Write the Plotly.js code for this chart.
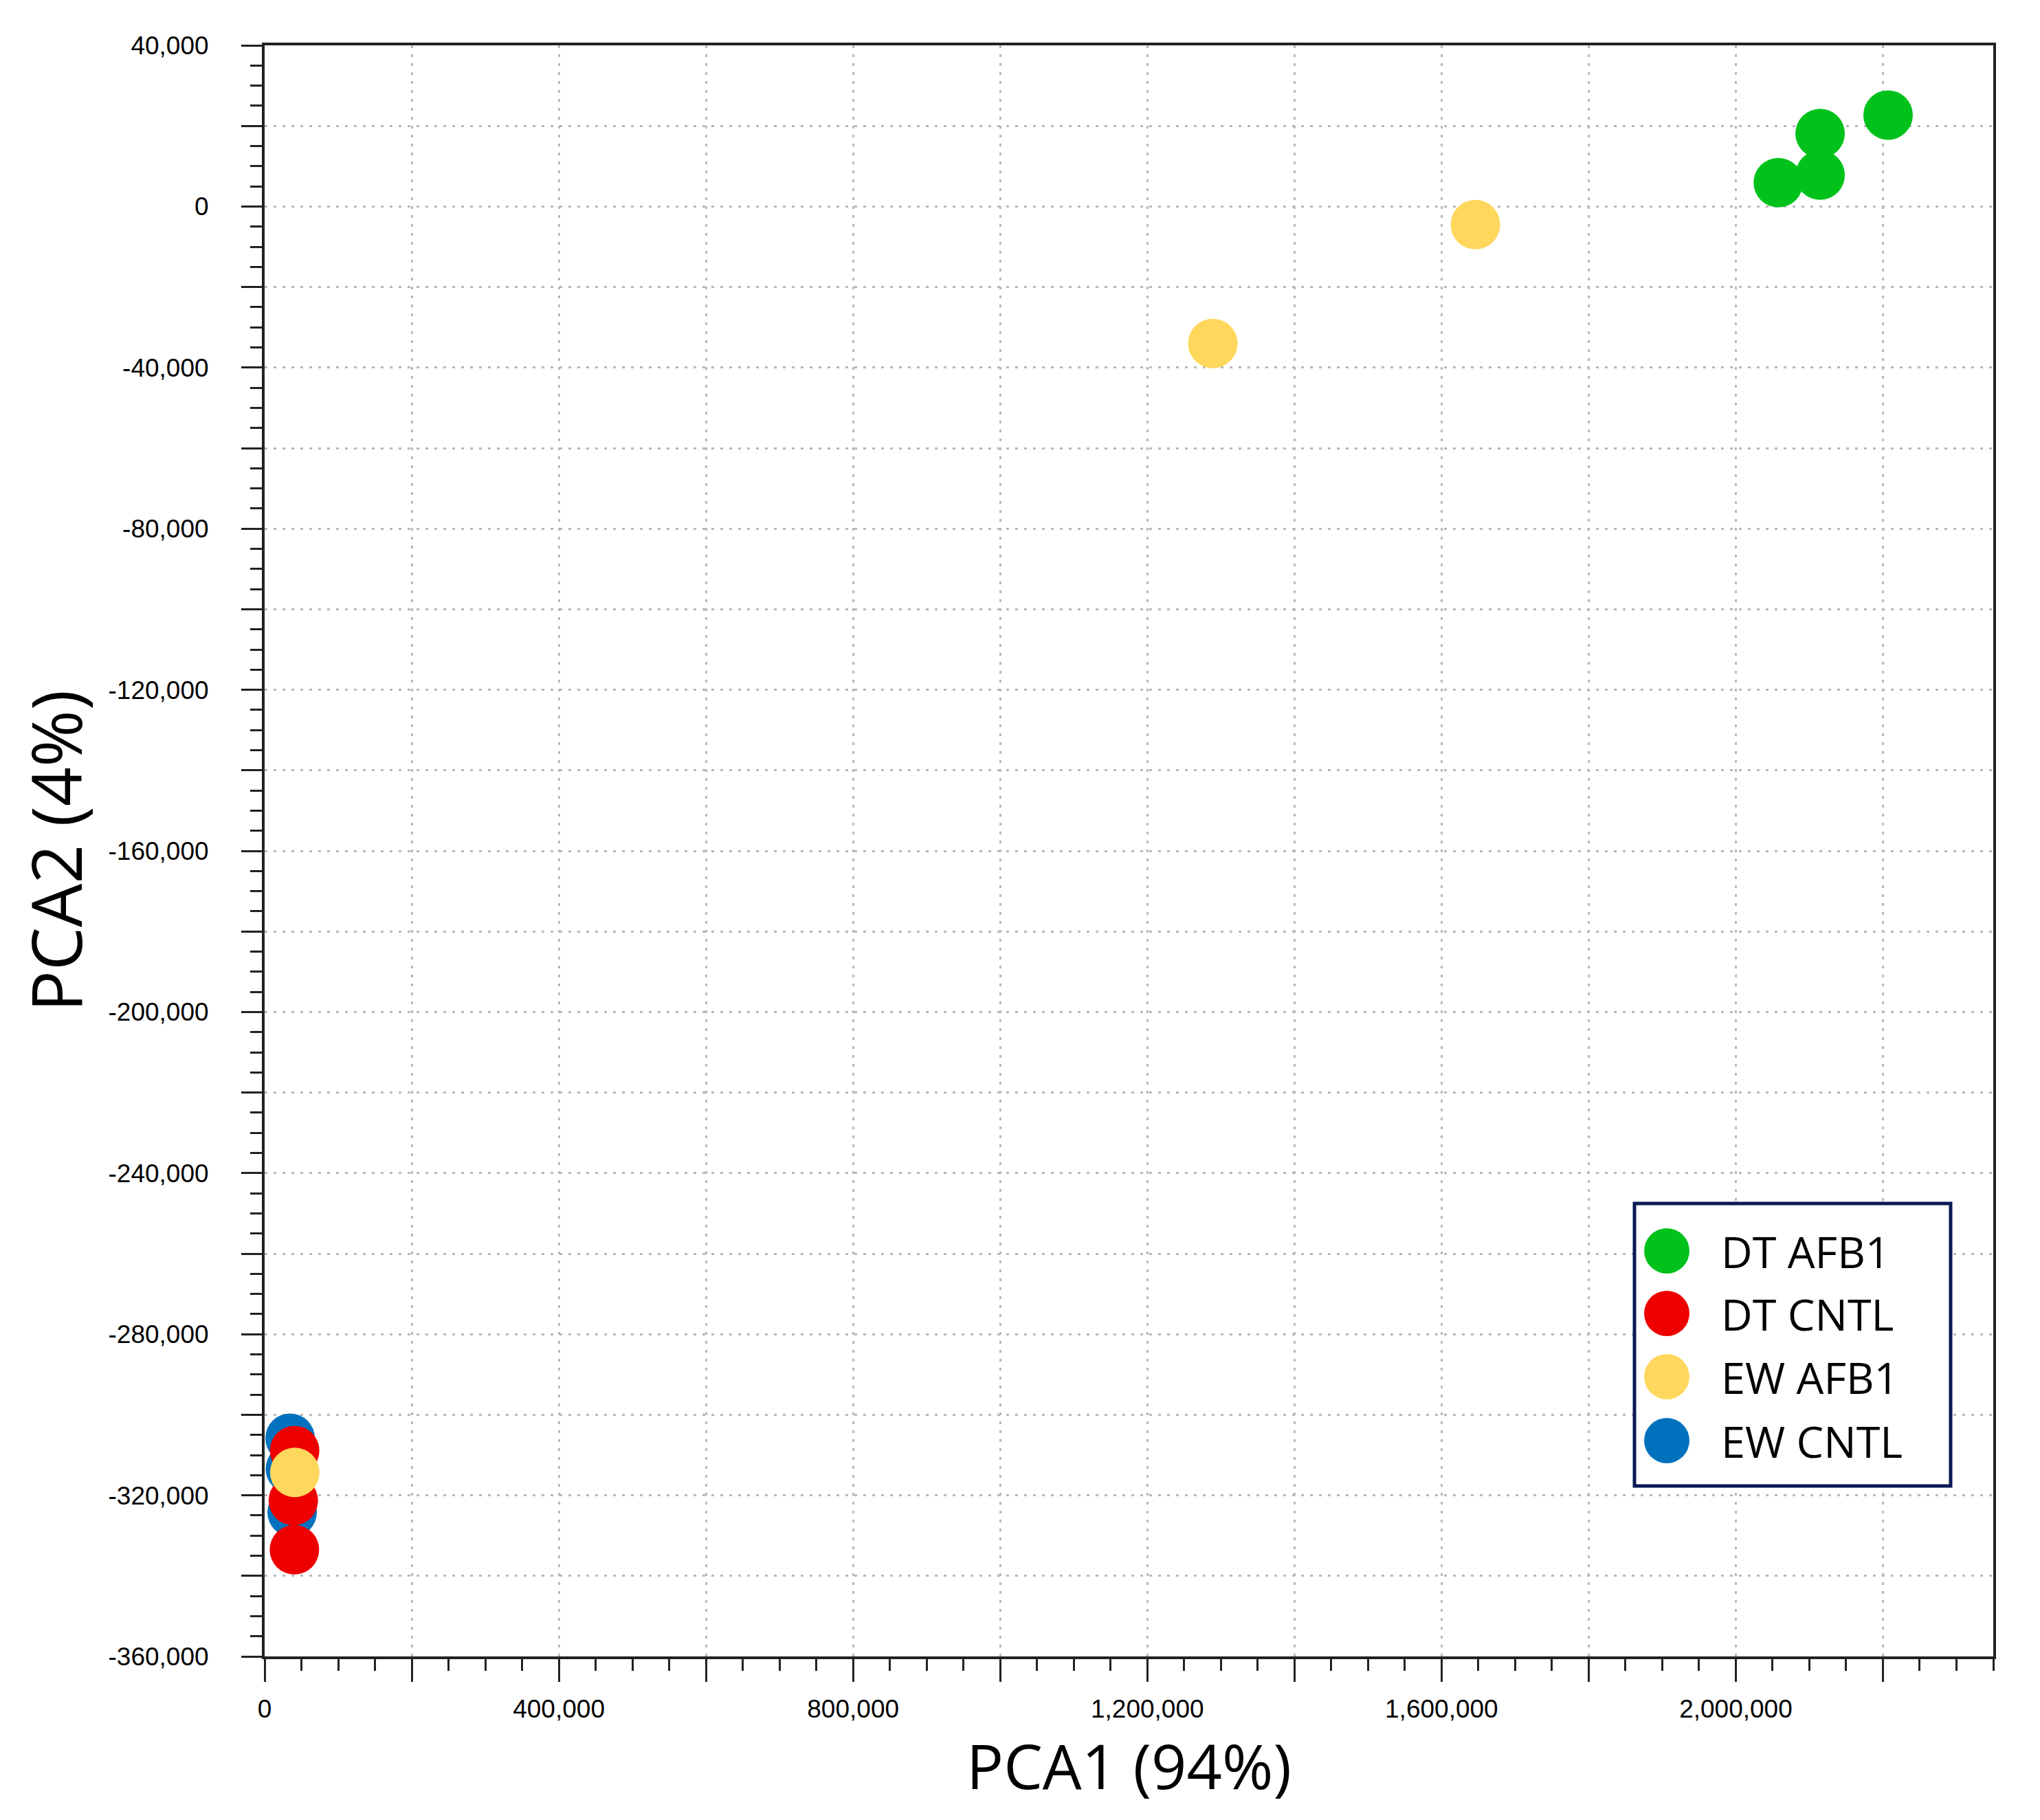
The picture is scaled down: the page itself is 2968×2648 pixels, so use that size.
<!DOCTYPE html>
<html>
<head>
<meta charset="utf-8">
<script src="https://cdn.plot.ly/plotly-3.0.1.min.js"></script>
<style>html,body{margin:0;padding:0;background:#fff;}#chart{width:2968px;height:2648px;}</style>
</head>
<body>
<div id="chart"></div>
<script>
// ---- data ----
const seriesNames = ["DT AFB1", "DT CNTL", "EW AFB1", "EW CNTL"];
const seriesColors = ["#00c21b", "#ee0000", "#ffd75c", "#0072bd"];

const dtAfb1X = [2207000, 2114600, 2114600, 2057800];
const dtAfb1Y = [22700, 18100, 7800, 5900];

const dtCntlX = [40800, 39000, 40500];
const dtCntlY = [-308900, -321300, -333500];

const ewAfb1X = [1289000, 1646000, 41000];
const ewAfb1Y = [-34000, -4500, -314300];

const ewCntlX = [34600, 35000, 37400];
const ewCntlY = [-305800, -313400, -324200];

const xTickVals = [0,200000,400000,600000,800000,1000000,1200000,1400000,1600000,1800000,2000000,2200000];
const xTickText = ["0","","400,000","","800,000","","1,200,000","","1,600,000","","2,000,000",""];
const yTickVals = [40000,20000,0,-20000,-40000,-60000,-80000,-100000,-120000,-140000,-160000,-180000,-200000,-220000,-240000,-260000,-280000,-300000,-320000,-340000,-360000];
const yTickText = ["40,000","","0","","-40,000","","-80,000","","-120,000","","-160,000","","-200,000","","-240,000","","-280,000","","-320,000","","-360,000"];

const xTitle = "PCA1 (94%)";
const yTitle = "PCA2 (4%)";

// ---- layout geometry ----
const W = 2968, H = 2648;
const mL = 385, mR = 68, mT = 66, mB = 238;
const plotW = W - mL - mR, plotH = H - mT - mB;
const px = v => (v - mL) / plotW;          // pixel x -> paper
const py = v => (H - mB - v) / plotH;      // pixel y -> paper

const MS = 72;
function trace(i, xs, ys) {
  return {
    type: "scatter", mode: "markers", name: seriesNames[i],
    x: xs, y: ys,
    marker: {size: MS, color: seriesColors[i], line: {width: 0}},
    showlegend: false, hoverinfo: "skip"
  };
}
// draw order: blue under red under yellow, green
const data = [
  trace(3, ewCntlX, ewCntlY),
  trace(1, dtCntlX, dtCntlY),
  trace(2, ewAfb1X, ewAfb1Y),
  trace(0, dtAfb1X, dtAfb1Y)
];

// ---- custom legend (large markers) ----
const shapes = [];
const annotations = [];
const legL = 2378, legR = 2838, legT = 1751, legB = 2162;
shapes.push({type: "rect", xref: "paper", yref: "paper",
  x0: px(legL), x1: px(legR), y0: py(legB), y1: py(legT),
  line: {color: "#0b1a55", width: 5}, fillcolor: "rgba(255,255,255,1)", layer: "above"});
const rowY = [1820, 1911, 2003, 2096];
const legMarkR = 33;
seriesNames.forEach((nm, i) => {
  shapes.push({type: "circle", xref: "paper", yref: "paper",
    xsizemode: "pixel", ysizemode: "pixel",
    xanchor: px(2425), yanchor: py(rowY[i]),
    x0: -legMarkR, x1: legMarkR, y0: -legMarkR, y1: legMarkR,
    fillcolor: seriesColors[i], line: {width: 0}, layer: "above"});
  annotations.push({xref: "paper", yref: "paper", x: px(2502), y: py(rowY[i]),
    xanchor: "left", yanchor: "middle", showarrow: false, text: nm,
    font: {family: "Open Sans", size: 63, color: "#000"}});
});

const tickFont = {family: "Liberation Sans", size: 37, color: "#000"};
const layout = {
  width: W, height: H,
  margin: {l: mL, r: mR, t: mT, b: mB, pad: 0},
  paper_bgcolor: "#fff", plot_bgcolor: "#fff",
  showlegend: false,
  xaxis: {
    range: [0, 2350000], autorange: false,
    tickmode: "array", tickvals: xTickVals, ticktext: xTickText,
    ticks: "outside", ticklen: 33, tickwidth: 3, tickcolor: "#222",
    tickfont: tickFont, ticklabelstandoff: 8,
    showgrid: true, gridcolor: "#b8b8b8", gridwidth: 3, griddash: "4px,9px",
    showline: true, linecolor: "#222", linewidth: 4, mirror: true,
    zeroline: false,
    minor: {dtick: 50000, tick0: 0, ticks: "outside", ticklen: 17, tickwidth: 3, tickcolor: "#222", showgrid: false},
    title: {text: xTitle, font: {family: "Open Sans", size: 90, color: "#000"}, standoff: 22}
  },
  yaxis: {
    range: [-360000, 40000], autorange: false,
    tickmode: "array", tickvals: yTickVals, ticktext: yTickText,
    ticks: "outside", ticklen: 30, tickwidth: 3, tickcolor: "#222",
    tickfont: tickFont, ticklabelstandoff: 40,
    showgrid: true, gridcolor: "#b8b8b8", gridwidth: 3, griddash: "4px,9px",
    showline: true, linecolor: "#222", linewidth: 4, mirror: true,
    zeroline: false,
    minor: {dtick: 5000, tick0: 0, ticks: "outside", ticklen: 17, tickwidth: 3, tickcolor: "#222", showgrid: false},
    title: {text: yTitle, font: {family: "Open Sans", size: 100, color: "#000"}, standoff: 6}
  },
  shapes: shapes,
  annotations: annotations
};

Plotly.newPlot("chart", data, layout, {staticPlot: true, displayModeBar: false});
</script>
</body>
</html>
